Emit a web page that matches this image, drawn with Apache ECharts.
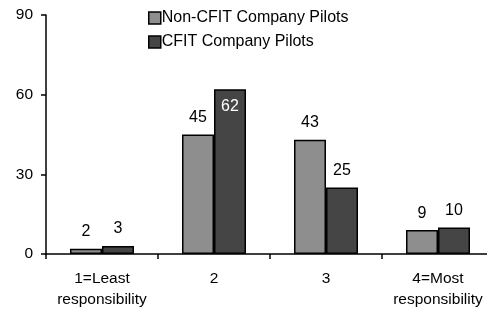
<!DOCTYPE html>
<html>
<head>
  <meta charset="utf-8">
</head>
<body style="margin: 0; background: #fff">
  <div id="container" style="width: 487px; height: 312px"></div>
  <script src="https://fastly.jsdelivr.net/npm/echarts@6.0.0/dist/echarts.min.js"></script>
  <script>
    var categories = ['1=Least\nresponsibility', '2', '3', '4=Most\nresponsibility'];
    var nonCfit = [2, 45, 43, 9];
    var cfit = [3, 62, 25, 10];
    var yTicks = [0, 30, 60, 90];

    var chart = echarts.init(document.getElementById('container'), null, { renderer: 'canvas' });
    var font = 'Liberation Sans, Arial, sans-serif';

    // the tallest bar carries its label inside, in white
    function labelled(values, insideIdx) {
      return values.map(function (v, i) {
        if (i === insideIdx) {
          return { value: v, label: { position: 'insideTop', color: '#fff', distance: 9 } };
        }
        return v;
      });
    }

    var option = {
      animation: false,
      textStyle: { fontFamily: font },
      legend: {
        orient: 'vertical',
        left: 143,
        top: 5,
        itemWidth: 12,
        itemHeight: 12,
        itemGap: 8,
        icon: 'rect',
        itemStyle: { borderColor: '#000', borderWidth: 1.5 },
        textStyle: { fontSize: 16, color: '#000', fontFamily: font, padding: [0, 0, 0, -4] },
        data: ['Non-CFIT Company Pilots', 'CFIT Company Pilots']
      },
      grid: { left: 46, top: 15, width: 448, height: 239, containLabel: false, outerBoundsMode: 'none' },
      xAxis: {
        type: 'category',
        data: categories,
        axisLine: { lineStyle: { color: '#000', width: 1.5 } },
        axisTick: { show: true, length: 5, lineStyle: { color: '#000', width: 1.5 } },
        axisLabel: { color: '#000', fontSize: 15.5, fontFamily: font, margin: 14, lineHeight: 21, interval: 0 }
      },
      yAxis: {
        type: 'value',
        min: yTicks[0],
        max: yTicks[yTicks.length - 1],
        interval: 30,
        splitLine: { show: false },
        axisLine: { show: true, lineStyle: { color: '#000', width: 1.5 } },
        axisTick: { show: true, length: 5, lineStyle: { color: '#000', width: 1.5 } },
        axisLabel: { color: '#000', fontSize: 15.5, fontFamily: font, margin: 13 }
      },
      series: [
        {
          name: 'Non-CFIT Company Pilots',
          type: 'bar',
          data: labelled(nonCfit, -1),
          barWidth: 32,
          barGap: '0%',
          itemStyle: { color: '#8e8e8e', borderColor: '#000', borderWidth: 1.5 },
          label: { show: true, position: 'top', color: '#000', fontSize: 16, fontFamily: font, distance: 9 }
        },
        {
          name: 'CFIT Company Pilots',
          type: 'bar',
          data: labelled(cfit, 1),
          barWidth: 32,
          itemStyle: { color: '#454545', borderColor: '#000', borderWidth: 1.5 },
          label: { show: true, position: 'top', color: '#000', fontSize: 16, fontFamily: font, distance: 9 }
        }
      ]
    };

    chart.setOption(option);
  </script>
</body>
</html>
